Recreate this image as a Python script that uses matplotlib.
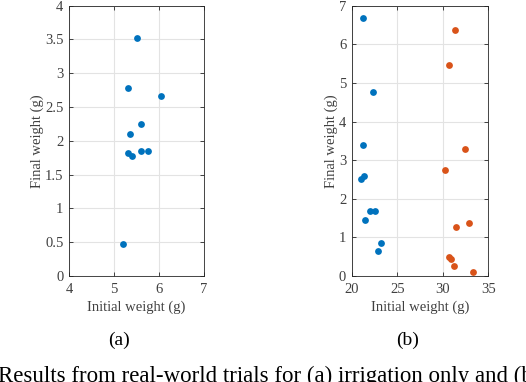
import matplotlib
matplotlib.use("Agg")
import matplotlib.pyplot as plt

# Data (a): irrigation only
a_initial = [5.50, 5.32, 6.04, 5.61, 5.35, 5.60, 5.75, 5.30, 5.40, 5.21]
a_final = [3.52, 2.78, 2.66, 2.25, 2.10, 1.85, 1.85, 1.82, 1.77, 0.47]

# Data (b): two groups
b1_initial = [21.2, 22.34, 21.2, 21.06, 21.39, 22.05, 22.6, 21.5, 23.18, 22.85]
b1_final = [6.68, 4.76, 3.40, 2.51, 2.60, 1.68, 1.68, 1.44, 0.86, 0.65]
b2_initial = [31.31, 30.72, 32.40, 30.21, 32.84, 31.45, 30.72, 30.95, 31.26, 33.36]
b2_final = [6.38, 5.47, 3.29, 2.74, 1.36, 1.26, 0.49, 0.43, 0.25, 0.11]

a_xticks = [4, 5, 6, 7]
a_yticks = [0, 0.5, 1, 1.5, 2, 2.5, 3, 3.5, 4]
a_yticklabels = ["0", "0.5", "1", "1.5", "2", "2.5", "3", "3.5", "4"]
b_xticks = [20, 25, 30, 35]
b_yticks = [0, 1, 2, 3, 4, 5, 6, 7]

BLUE = "#0072BD"
ORANGE = "#D95319"
TXT = "#404040"

plt.rcParams['font.family'] = ['Liberation Serif', 'DejaVu Serif']

fig = plt.figure(figsize=(5.26, 3.82), dpi=100)

ax1 = fig.add_axes([69/526, 1-276/382, (204-69)/526, (276-5.7)/382])
ax2 = fig.add_axes([351.7/526, 1-276/382, (488.3-351.7)/526, (276-5.7)/382])

def style(ax):
    ax.grid(True, color="#e3e3e3", linewidth=0.8)
    ax.set_axisbelow(True)
    ax.tick_params(direction="in", top=True, right=True, labelsize=10.5,
                   colors="#262626", labelcolor=TXT, length=3, width=0.6)
    ax.tick_params(axis="x", pad=5)
    ax.tick_params(axis="y", pad=4)
    for sp in ax.spines.values():
        sp.set_color("#262626")
        sp.set_linewidth(0.6)

ax1.scatter(a_initial, a_final, s=24, color=BLUE, zorder=3, linewidths=0)
ax1.set_xlim(4, 7)
ax1.set_ylim(0, 4)
ax1.set_xticks(a_xticks)
ax1.set_yticks(a_yticks)
ax1.set_yticklabels(a_yticklabels)
style(ax1)
ax1.set_xlabel("Initial weight (g)", fontsize=10.5, color=TXT, labelpad=3.5)
ax1.set_ylabel("Final weight (g)", fontsize=10.5, color=TXT, labelpad=0.5)

ax2.scatter(b1_initial, b1_final, s=24, color=BLUE, zorder=3, linewidths=0)
ax2.scatter(b2_initial, b2_final, s=24, color=ORANGE, zorder=3, linewidths=0)
ax2.set_xlim(20, 35)
ax2.set_ylim(0, 7)
ax2.set_xticks(b_xticks)
ax2.set_yticks(b_yticks)
style(ax2)
ax2.set_xlabel("Initial weight (g)", fontsize=10.5, color=TXT, labelpad=3.5)
ax2.set_ylabel("Final weight (g)", fontsize=10.5, color=TXT, labelpad=0.5)

fig.text(119/526, 1-340/382, "(a)", fontsize=14, ha="center", va="center")
fig.text(408/526, 1-340/382, "(b)", fontsize=14, ha="center", va="center")
fig.text(-2/526, 1-376/382, "Results from real-world trials for (a) irrigation only and (b",
         fontsize=16.5, ha="left", va="center")

fig.savefig("out.png", dpi=100)
